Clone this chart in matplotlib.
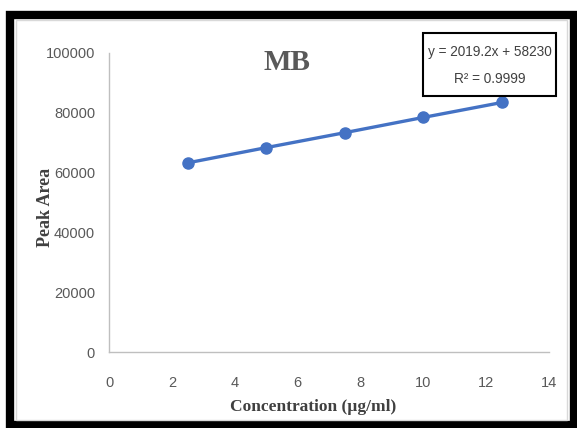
import numpy as np
import matplotlib
matplotlib.use("Agg")
import matplotlib.pyplot as plt
from matplotlib.patches import Rectangle

# datos de la curva de calibracion
conc = [2.5, 5, 7.5, 10, 12.5]
area = [63250, 68350, 73350, 78450, 83450]
xticks = [0, 2, 4, 6, 8, 10, 12, 14]
yticks = [0, 20000, 40000, 60000, 80000, 100000]
eq_text = "y = 2019.2x + 58230"
r2_text = "R\u00b2 = 0.9999"

sans = "Liberation Sans"
serif = "Liberation Serif"

W, H = 577, 428
fig = plt.figure(figsize=(W / 100, H / 100), dpi=100)

# marco negro y borde gris interior
fig.patches.append(Rectangle((10 / W, 3 / H), 563.5 / W, 410 / H, transform=fig.transFigure,
                             fill=False, edgecolor="black", linewidth=6))
fig.patches.append(Rectangle((16 / W, 8 / H), 551 / W, 400 / H, transform=fig.transFigure,
                             fill=False, edgecolor="#d9d9d9", linewidth=1))

ax = fig.add_axes([109 / W, 76 / H, 440 / W, 299 / H])
ax.plot(conc, area, color="#4472C4", linewidth=2.4, marker="o", markersize=8)

ax.set_xlim(0, 14)
ax.set_ylim(0, 100000)
ax.set_xticks(xticks)
ax.set_yticks(yticks)
ax.set_xticklabels([str(t) for t in xticks])
ax.set_yticklabels([str(t) for t in yticks])
ax.tick_params(length=0, labelsize=10.5, labelcolor="#595959")
ax.tick_params(axis="x", pad=17)
ax.tick_params(axis="y", pad=10)
for lab in ax.get_xticklabels() + ax.get_yticklabels():
    lab.set_family(sans)

for s in ["top", "right"]:
    ax.spines[s].set_visible(False)
for s in ["left", "bottom"]:
    ax.spines[s].set_color("#bfbfbf")
    ax.spines[s].set_linewidth(1)

fig.text(287 / W, (H - 62) / H, "MB", family=serif, weight="bold", fontsize=21,
         color="#595959", ha="center", va="center")
fig.text(313 / W, (H - 407) / H, "Concentration (\u00b5g/ml)", family=serif, weight="bold",
         fontsize=12.5, color="#404040", ha="center", va="center")
fig.text(46 / W, (H - 207) / H, "Peak Area", family=serif, weight="bold", fontsize=13,
         color="#404040", ha="center", va="center", rotation=90)

# cuadro de la ecuacion
fig.patches.append(Rectangle((423 / W, (H - 96) / H), 133 / W, 63 / H, transform=fig.transFigure,
                             facecolor="white", edgecolor="black", linewidth=1.5))
fig.text(489.5 / W, (H - 52) / H, eq_text, family=sans, fontsize=9.8, color="#404040",
         ha="center", va="center")
fig.text(489.5 / W, (H - 79) / H, r2_text, family=sans, fontsize=9.8, color="#404040",
         ha="center", va="center")

fig.savefig("out.png", dpi=100)
